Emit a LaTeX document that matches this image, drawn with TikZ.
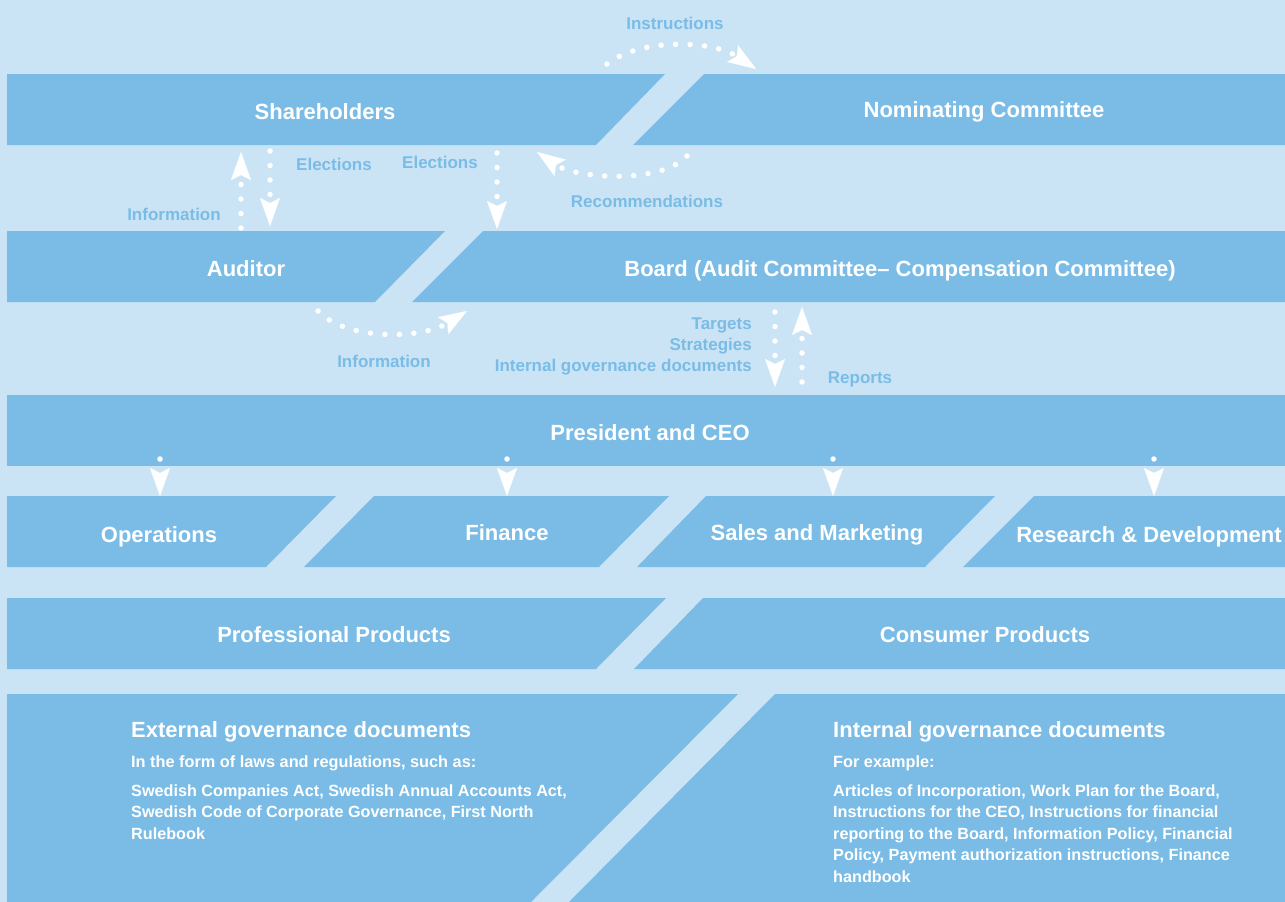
\documentclass[tikz,border=0pt]{standalone}
\usepackage{fontspec}
\setmainfont{Liberation Sans}
\usetikzlibrary{arrows.meta}
\definecolor{bgblue}{HTML}{CAE4F6}
\definecolor{bandblue}{HTML}{7ABCE6}
\tikzset{
  band/.style={fill=bandblue},
  title/.style={text=white, font=\bfseries\fontsize{22}{26}\selectfont, inner sep=0pt, anchor=base},
  lbl/.style={text=bandblue, font=\bfseries\fontsize{17}{20}\selectfont, inner sep=0pt, anchor=base},
  dochead/.style={text=white, font=\bfseries\fontsize{22}{26}\selectfont, inner sep=0pt, anchor=base west},
  docsub/.style={text=white, font=\bfseries\fontsize{16.3}{20}\selectfont, inner sep=0pt, anchor=base west},
  docbody/.style={text=white, font=\bfseries\fontsize{16.2}{20}\selectfont, inner sep=0pt, anchor=base west},
  flow/.style={draw=white, line width=5.5pt, line cap=round, dash pattern=on 0pt off 14.5pt,
    -{Stealth[length=28pt, width=20pt, inset=5pt, line width=0.1pt]}},
}
\begin{document}
\begin{tikzpicture}[x=1pt, y=-1pt]
\useasboundingbox (0,0) rectangle (1285,902);
\fill[bgblue] (0,0) rectangle (1285,902);

% row 1
\fill[band] (7,74) -- (665,74) -- (596,145) -- (7,145) -- cycle;
\fill[band] (704,74) -- (1285,74) -- (1285,145) -- (633,145) -- cycle;
% row 2
\fill[band] (7,231) -- (445,231) -- (375,302) -- (7,302) -- cycle;
\fill[band] (483,231) -- (1285,231) -- (1285,302) -- (412,302) -- cycle;
% row 3
\fill[band] (7,395) rectangle (1285,466);
% row 4
\fill[band] (7,496) -- (336,496) -- (266,567) -- (7,567) -- cycle;
\fill[band] (374,496) -- (669,496) -- (599,567) -- (304,567) -- cycle;
\fill[band] (706,496) -- (995,496) -- (925,567) -- (637,567) -- cycle;
\fill[band] (1034,496) -- (1285,496) -- (1285,567) -- (963,567) -- cycle;
% row 5
\fill[band] (7,598) -- (666,598) -- (596,669) -- (7,669) -- cycle;
\fill[band] (703,598) -- (1285,598) -- (1285,669) -- (634,669) -- cycle;
% row 6
\fill[band] (7,694) -- (738,694) -- (531,902) -- (7,902) -- cycle;
\fill[band] (775,694) -- (1285,694) -- (1285,902) -- (569,902) -- cycle;

% titles
\node[title] (sh) at (325,119) {Shareholders};
\node[title] (nc) at (984,117) {Nominating Committee};
\node[title] (au) at (246,276) {Auditor};
\node[title] (bo) at (900,276) {Board (Audit Committee– Compensation Committee)};
\node[title] (ceo) at (650,440) {President and CEO};
\node[title] (op) at (159,542) {Operations};
\node[title] (fi) at (507,540) {Finance};
\node[title] (sm) at (817,540) {Sales and Marketing};
\node[title] (rd) at (1149,542) {Research \& Development};
\node[title] (pp) at (334,642) {Professional Products};
\node[title] (cp) at (985,642) {Consumer Products};

% labels
\node[lbl] (linstr) at (675,29) {Instructions};
\node[lbl] (lel1) at (334,170) {Elections};
\node[lbl] (lel2) at (440,168) {Elections};
\node[lbl] (linf1) at (174,220) {Information};
\node[lbl] (lrec) at (647,207) {Recommendations};
\node[lbl] (linf2) at (384,367) {Information};
\node[lbl, anchor=base east] (ltar) at (752,329) {Targets};
\node[lbl, anchor=base east] (lstr) at (752,350) {Strategies};
\node[lbl, anchor=base east] (ligd) at (752,371) {Internal governance documents};
\node[lbl] (lrep) at (860,383) {Reports};

% bottom texts
\node[dochead] (eh) at (131,737) {External governance documents};
\node[docsub] (es) at (131,767) {In the form of laws and regulations, such as:};
\node[docbody] (e1) at (131,796) {Swedish Companies Act, Swedish Annual Accounts Act,};
\node[docbody] (e2) at (131,817) {Swedish Code of Corporate Governance, First North};
\node[docbody] (e3) at (131,839) {Rulebook};
\node[dochead] (ih) at (833,737) {Internal governance documents};
\node[docsub] (is) at (833,767) {For example:};
\node[docbody] (i1) at (833,796) {Articles of Incorporation, Work Plan for the Board,};
\node[docbody] (i2) at (833,817) {Instructions for the CEO, Instructions for financial};
\node[docbody] (i3) at (833,839) {reporting to the Board, Information Policy, Financial};
\node[docbody] (i4) at (833,860) {Policy, Payment authorization instructions, Finance};
\node[docbody] (i5) at (833,882) {handbook};

% connector end points
\coordinate (instrA) at (607,64);
\coordinate (instrB) at (756,69);
\coordinate (recA) at (687,156);
\coordinate (recB) at (537,152);
\coordinate (infA) at (241,228);
\coordinate (infB) at (241,152);
\coordinate (elaA) at (270,151);
\coordinate (elaB) at (270,226);
\coordinate (elbA) at (497,153);
\coordinate (elbB) at (497,229);
\coordinate (inbA) at (318,311);
\coordinate (inbB) at (467,311);
\coordinate (tarA) at (775,312);
\coordinate (tarB) at (775,387);
\coordinate (repA) at (802,382);
\coordinate (repB) at (802,307);
\coordinate (c1) at (160,459);
\coordinate (c2) at (507,459);
\coordinate (c3) at (833,459);
\coordinate (c4) at (1154,459);
\coordinate (d1) at (160,496);
\coordinate (d2) at (507,496);
\coordinate (d3) at (833,496);
\coordinate (d4) at (1154,496);

% connectors
\draw[flow] (instrA) .. controls (640,38) and (712,40) .. (instrB);
\draw[flow] (recA) .. controls (660,185) and (575,178) .. (recB);
\draw[flow] (infA) -- (infB);
\draw[flow] (elaA) -- (elaB);
\draw[flow] (elbA) -- (elbB);
\draw[flow] (inbA) .. controls (345,340) and (420,340) .. (inbB);
\draw[flow] (tarA) -- (tarB);
\draw[flow] (repA) -- (repB);
\draw[flow] (c1) -- (d1);
\draw[flow] (c2) -- (d2);
\draw[flow] (c3) -- (d3);
\draw[flow] (c4) -- (d4);
\end{tikzpicture}
\end{document}
